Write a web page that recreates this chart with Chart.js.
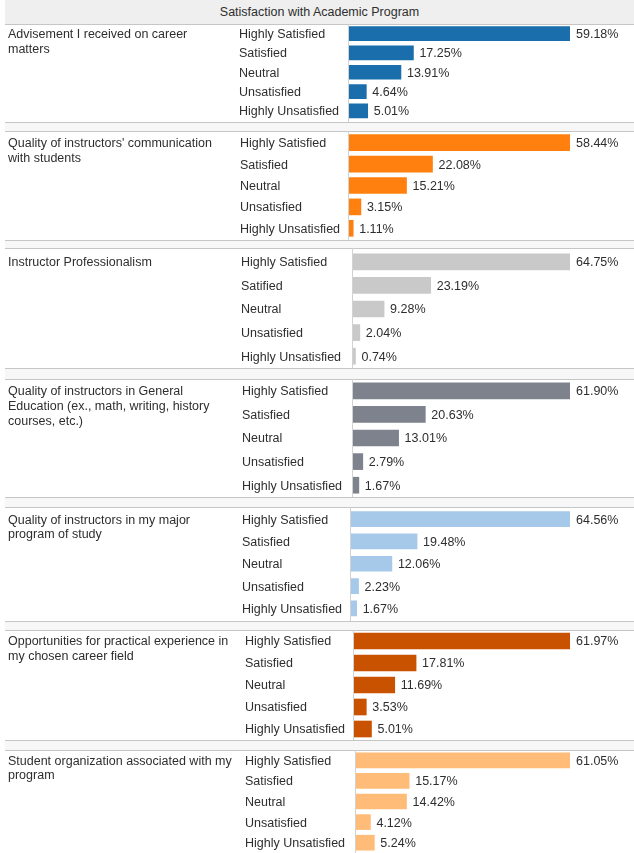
<!DOCTYPE html>
<html>
<head>
<meta charset="utf-8">
<script src="https://cdn.jsdelivr.net/npm/chart.js@4.4.1/dist/chart.umd.min.js"></script>
<style>
  body { margin: 0; background: #fff; width: 634px; height: 853px; position: relative; overflow: hidden; font-family: "Liberation Sans", Arial, sans-serif; }
  .title { position: absolute; left: 5px; top: 0; width: 629px; height: 24px; background: #efefef; color: #2e2e2e; font-size: 12.5px; line-height: 25px; text-align: center; }
  .rule { position: absolute; left: 5px; width: 629px; height: 1px; background: #c6c6c6; }
  .gap { position: absolute; left: 5px; width: 629px; background: #f7f7f7; }
  canvas { position: absolute; left: 0; }
</style>
</head>
<body>
<div class="title" id="title"></div>
<script>
// textos e dados
const chartTitle = 'Satisfaction with Academic Program';
const topics = [
  ['Advisement I received on career', 'matters'],
  ['Quality of instructors\' communication', 'with students'],
  ['Instructor Professionalism'],
  ['Quality of instructors in General', 'Education (ex., math, writing, history', 'courses, etc.)'],
  ['Quality of instructors in my major', 'program of study'],
  ['Opportunities for practical experience in', 'my chosen career field'],
  ['Student organization associated with my', 'program']
];
const levels = ['Highly Satisfied', 'Satisfied', 'Neutral', 'Unsatisfied', 'Highly Unsatisfied'];
const levelsProfessionalism = ['Highly Satisfied', 'Satified', 'Neutral', 'Unsatisfied', 'Highly Unsatisfied']; // erro de digitação do original

const advisement = [59.18, 17.25, 13.91, 4.64, 5.01];
const communication = [58.44, 22.08, 15.21, 3.15, 1.11];
const professionalism = [64.75, 23.19, 9.28, 2.04, 0.74];
const generalEducation = [61.90, 20.63, 13.01, 2.79, 1.67];
const majorProgram = [64.56, 19.48, 12.06, 2.23, 1.67];
const practicalExperience = [61.97, 17.81, 11.69, 3.53, 5.01];
const studentOrganization = [61.05, 15.17, 14.42, 4.12, 5.24];

const categories = [levels, levels, levelsProfessionalism, levels, levels, levels, levels];
const series = [advisement, communication, professionalism, generalEducation, majorProgram, practicalExperience, studentOrganization];
const colors = ['#1a6eab', '#ff800e', '#c9c9c9', '#7d828c', '#a6c9ea', '#c85200', '#ffbc79'];

// posição de cada painel (linhas separadoras, início das barras, etc.)
const frames = [
  { top: 24,  bottom: 122, padTop: 0, padBottom: 1.5, barLeft: 349, labelLeft: 239, bar: 14 },
  { top: 131, bottom: 240, padTop: 1, padBottom: 1,   barLeft: 349, labelLeft: 240, bar: 16 },
  { top: 248, bottom: 368, padTop: 2, padBottom: 0,   barLeft: 353, labelLeft: 241, bar: 16 },
  { top: 379, bottom: 497, padTop: 0, padBottom: 0,   barLeft: 353, labelLeft: 242, bar: 16 },
  { top: 507, bottom: 621, padTop: 1, padBottom: 1.5, barLeft: 351, labelLeft: 242, bar: 15 },
  { top: 630, bottom: 740, padTop: 0, padBottom: 0,   barLeft: 354, labelLeft: 245, bar: 16 },
  { top: 750, bottom: 853, padTop: 0, padBottom: 0,   barLeft: 356, labelLeft: 245, bar: 15 }
];
const barRight = 570;
const font = '12.5px "Liberation Sans", Arial, sans-serif';
const textColor = '#2e2e2e';

document.getElementById('title').textContent = chartTitle;

// linhas separadoras entre os painéis
frames.forEach(function (f, i) {
  const top = document.createElement('div');
  top.className = 'rule';
  top.style.top = (f.top) + 'px';
  document.body.appendChild(top);
  if (i < frames.length - 1) {
    const gap = document.createElement('div');
    gap.className = 'gap';
    gap.style.top = (f.bottom + 1) + 'px';
    gap.style.height = (frames[i + 1].top - f.bottom - 1) + 'px';
    document.body.appendChild(gap);
    const bot = document.createElement('div');
    bot.className = 'rule';
    bot.style.top = f.bottom + 'px';
    document.body.appendChild(bot);
  }
});

// plugin que escreve o título do painel, as categorias e os valores
const panelText = {
  id: 'panelText',
  afterDatasetsDraw: function (chart) {
    const ctx = chart.ctx;
    const idx = chart.options.plugins.panelText.index;
    const f = frames[idx];
    const meta = chart.getDatasetMeta(0);
    const vals = chart.data.datasets[0].data;
    const area = chart.chartArea;
    ctx.save();
    // eixo vertical
    ctx.strokeStyle = '#d2d2d2';
    ctx.lineWidth = 1;
    ctx.beginPath();
    ctx.moveTo(area.left - 0.5, 0);
    ctx.lineTo(area.left - 0.5, chart.height);
    ctx.stroke();

    ctx.font = font;
    ctx.fillStyle = textColor;
    ctx.textBaseline = 'middle';
    ctx.textAlign = 'left';
    const firstY = meta.data[0].y + 1;
    topics[idx].forEach(function (line, k) {
      ctx.fillText(line, 8, firstY + k * 14.7);
    });
    meta.data.forEach(function (bar, k) {
      ctx.fillText(chart.data.labels[k], f.labelLeft, bar.y + 1);
      ctx.fillText(vals[k].toFixed(2) + '%', bar.x + 6, bar.y + 1);
    });
    ctx.restore();
  }
};

frames.forEach(function (f, i) {
  const canvas = document.createElement('canvas');
  canvas.width = 634;
  canvas.height = f.bottom - f.top;
  canvas.style.top = f.top + 'px';
  document.body.appendChild(canvas);
  new Chart(canvas.getContext('2d'), {
    type: 'bar',
    data: {
      labels: categories[i],
      datasets: [{
        data: series[i],
        backgroundColor: colors[i],
        borderWidth: 0,
        barThickness: f.bar
      }]
    },
    options: {
      indexAxis: 'y',
      responsive: false,
      animation: false,
      layout: { padding: { left: f.barLeft, right: 634 - barRight, top: f.padTop, bottom: f.padBottom } },
      scales: {
        x: { display: false, min: 0, max: Math.max.apply(null, series[i]) },
        y: { display: false }
      },
      plugins: {
        legend: { display: false },
        tooltip: { enabled: false },
        panelText: { index: i }
      }
    },
    plugins: [panelText]
  });
});
</script>
</body>
</html>
